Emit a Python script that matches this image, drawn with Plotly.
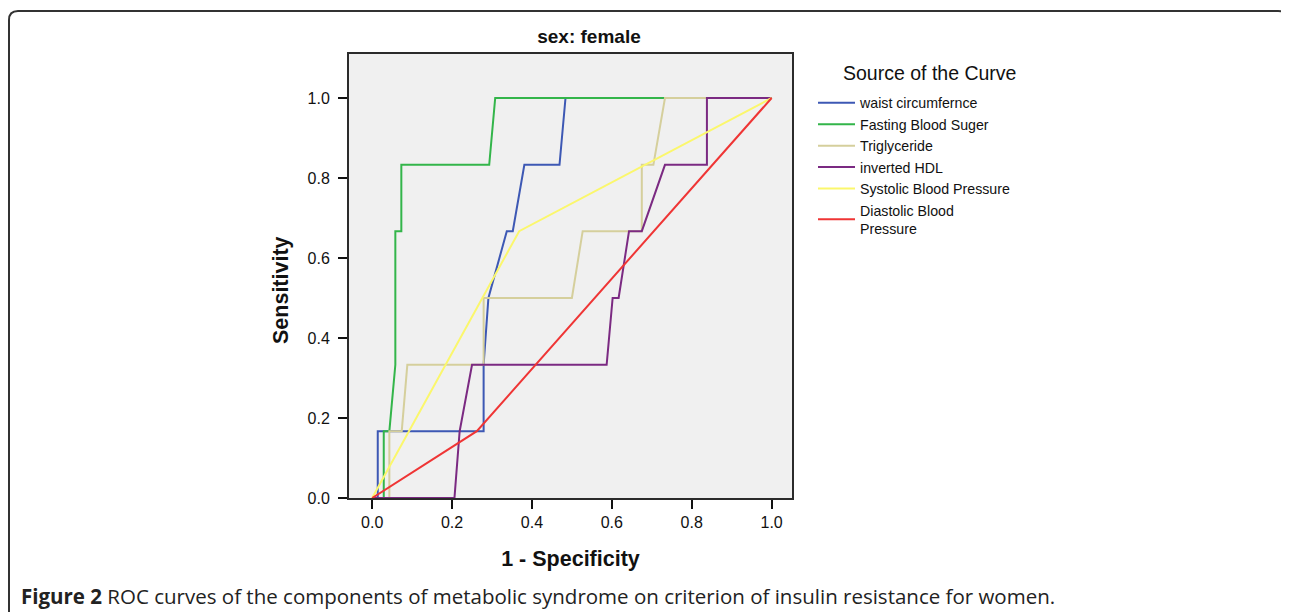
import plotly.graph_objects as go

# ---- data ----
series_names = ["waist circumfernce", "Fasting Blood Suger", "Triglyceride",
                "inverted HDL", "Systolic Blood Pressure", "Diastolic Blood<br>Pressure"]
series_colors = ["#3d58b4", "#33b54a", "#d5cf9c", "#7b2a82", "#fbf76c", "#ef3535"]

waist_x = [0, 0.014, 0.014, 0.279, 0.279, 0.291, 0.337, 0.352, 0.381, 0.469, 0.484, 1]
waist_y = [0, 0, 0.167, 0.167, 0.333, 0.5, 0.667, 0.667, 0.833, 0.833, 1, 1]

fbs_x = [0, 0.029, 0.029, 0.043, 0.058, 0.058, 0.073, 0.073, 0.293, 0.308, 1]
fbs_y = [0, 0, 0.167, 0.167, 0.333, 0.667, 0.667, 0.833, 0.833, 1, 1]

tg_x = [0, 0.043, 0.043, 0.074, 0.088, 0.279, 0.279, 0.5, 0.527, 0.675, 0.675, 0.704, 0.733, 1]
tg_y = [0, 0, 0.167, 0.167, 0.333, 0.333, 0.5, 0.5, 0.667, 0.667, 0.833, 0.833, 1, 1]

hdl_x = [0, 0.206, 0.219, 0.25, 0.587, 0.602, 0.617, 0.643, 0.675, 0.733, 0.838, 0.838, 1]
hdl_y = [0, 0, 0.167, 0.333, 0.333, 0.5, 0.5, 0.667, 0.667, 0.833, 0.833, 1, 1]

sbp_x = [0, 0.368, 1]
sbp_y = [0, 0.667, 1]

dbp_x = [0, 0.262, 1]
dbp_y = [0, 0.167, 1]

xs = [waist_x, fbs_x, tg_x, hdl_x, sbp_x, dbp_x]
ys = [waist_y, fbs_y, tg_y, hdl_y, sbp_y, dbp_y]

tick_vals = [0.0, 0.2, 0.4, 0.6, 0.8, 1.0]
tick_text = ["0.0", "0.2", "0.4", "0.6", "0.8", "1.0"]

# ---- figure ----
OFF = 8  # the page's body margin
W, H = 1289 - OFF, 612 - OFF
# plot area in reference px
RL, RR, RT, RB = 349, 792, 54, 498
L, R, T, B = RL - OFF, RR - OFF, RT - OFF, RB - OFF


def px2paper_x(px):  # px in reference coordinates
    return (px - RL) / (RR - RL)


def px2paper_y(py):
    return (RB - py) / (RB - RT)


fig = go.Figure()
for name, color, x, y in zip(series_names, series_colors, xs, ys):
    fig.add_trace(go.Scatter(x=x, y=y, mode="lines", name=name,
                             line=dict(color=color, width=2)))

axis_common = dict(
    showgrid=False, zeroline=False, showline=True, mirror=True,
    linecolor="#2b2b2b", linewidth=2,
    ticks="outside", ticklen=9, tickwidth=2, tickcolor="#111",
    tickvals=tick_vals, ticktext=tick_text,
    tickfont=dict(family="Liberation Sans, Arial", size=16, color="#111"),
)

fig.update_layout(
    width=W, height=H,
    margin=dict(l=L, r=W - R, t=T, b=H - B, pad=0),
    paper_bgcolor="white", plot_bgcolor="#f0f0f0",
    font=dict(family="Liberation Sans, Arial", color="#111"),
    title=dict(text="<b>sex: female</b>", x=px2paper_x(589), xref="paper",
               xanchor="center", y=1 - (36 - OFF) / H, yanchor="middle",
               font=dict(size=19, color="#111")),
    xaxis=dict(range=[-0.058, 1.051],
               title=dict(text="<b>1 - Specificity</b>", standoff=21,
                          font=dict(size=21.5, color="#111")),
               **axis_common),
    yaxis=dict(range=[0, 1.11], ticklabelstandoff=5, **axis_common),
    showlegend=True,
    legend=dict(
        x=px2paper_x(813), y=px2paper_y(87), xanchor="left", yanchor="top",
        bgcolor="rgba(0,0,0,0)",
        font=dict(family="Liberation Sans, Arial", size=14.2, color="#111"),
        tracegroupgap=0, itemwidth=37,
    ),
)

# legend heading
fig.add_annotation(
    text="Source of the Curve", xref="paper", yref="paper",
    x=px2paper_x(929), y=px2paper_y(73), xanchor="center", yanchor="middle",
    showarrow=False,
    font=dict(family="Liberation Sans, Arial", size=19.5, color="#111"),
)

# y-axis title (placed like the reference, slightly below the plot centre)
fig.add_annotation(
    text="<b>Sensitivity</b>", textangle=-90,
    xref="paper", yref="paper", x=px2paper_x(281), y=px2paper_y(290),
    xanchor="center", yanchor="middle", showarrow=False,
    font=dict(family="Liberation Sans, Arial", size=21.5, color="#111"),
)

# caption
fig.add_annotation(
    text="<b>Figure 2</b> ROC curves of the components of metabolic syndrome on criterion of insulin resistance for women.",
    xref="paper", yref="paper", x=px2paper_x(19), y=px2paper_y(596),
    xanchor="left", yanchor="middle", showarrow=False,
    font=dict(family="Open Sans", size=20.5, color="#222"),
)

# outer rounded frame
x0, x1 = px2paper_x(9), px2paper_x(1287)
y0, y1 = px2paper_y(640), px2paper_y(11)
rx, ry = 9 / (RR - RL), 9 / (RB - RT)
path = (f"M {x0},{y0} L {x0},{y1 - ry} Q {x0},{y1} {x0 + rx},{y1} "
        f"L {x1 - rx},{y1} Q {x1},{y1} {x1},{y1 - ry} L {x1},{y0}")
fig.add_shape(type="path", path=path, xref="paper", yref="paper",
              line=dict(color="#333", width=2), layer="below")

fig.write_html("out.html")
